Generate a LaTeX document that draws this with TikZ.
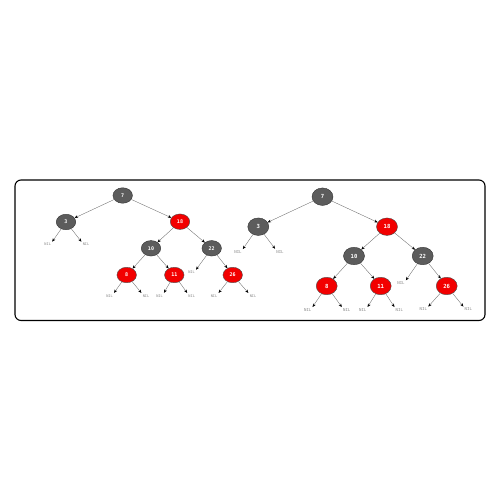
\documentclass[tikz,border=0pt]{standalone}
\usepackage{fontspec}
\newfontfamily\monofont{DejaVu Sans Mono}
\usetikzlibrary{shapes.geometric,arrows.meta}
\definecolor{nodegray}{HTML}{5C5C5C}
\definecolor{nodered}{HTML}{F20000}
\definecolor{edgegray}{HTML}{6A6A6A}
\definecolor{niltext}{HTML}{8A8A8A}
\tikzset{
  blk/.style={ellipse, draw=black!80, line width=0.4pt, fill=nodegray, text=white, font=\monofont\bfseries\fontsize{#1}{#1}\selectfont, inner sep=0pt},
  rd/.style={ellipse, draw=black!70, line width=0.4pt, fill=nodered, text=white, font=\monofont\bfseries\fontsize{#1}{#1}\selectfont, inner sep=0pt},
  sa/.style={minimum width=19.5pt, minimum height=15.5pt},
  sb/.style={minimum width=21pt, minimum height=17.5pt},
  nil/.style={text=niltext, font=\monofont\fontsize{#1}{#1}\selectfont, inner sep=0.5pt},
  edge/.style={draw=edgegray, line width=0.35pt, -{Stealth[length=3.4pt,width=2.8pt,color=black]}},
  nedge/.style={draw=edgegray, line width=0.35pt, -{Stealth[length=3.4pt,width=2.8pt,color=black]}, shorten >=1pt}
}
\begin{document}
\begin{tikzpicture}[x=1pt,y=-1pt]
\useasboundingbox (0,0) rectangle (500,500);
\draw[line width=1.1pt, rounded corners=6pt] (15,180) rectangle (485,320.5);
% left tree
\node[blk=5, sa] (a7) at (122.7,195.5) {7};
\node[blk=5, sa] (a3) at (66,222) {3};
\node[rd=5, sa] (a18) at (180,221.7) {18};
\node[blk=5, sa] (a10) at (151,248.3) {10};
\node[blk=5, sa] (a22) at (211.7,248.3) {22};
\node[rd=5, sa] (a8) at (126.7,275) {8};
\node[rd=5, sa] (a11) at (174.3,275) {11};
\node[rd=5, sa] (a26) at (232.7,275) {26};
\node[nil=3.6] (an1) at (47.7,244.5) {NIL};
\node[nil=3.6] (an2) at (86,244.5) {NIL};
\node[nil=3.6] (an3) at (191.5,272.5) {NIL};
\node[nil=3.6] (an4) at (109.5,295.7) {NIL};
\node[nil=3.6] (an5) at (146,295.7) {NIL};
\node[nil=3.6] (an6) at (159.5,295.7) {NIL};
\node[nil=3.6] (an7) at (191.7,295.7) {NIL};
\node[nil=3.6] (an8) at (214,295.7) {NIL};
\node[nil=3.6] (an9) at (253,295.7) {NIL};
\draw[edge] (a7) -- (a3);
\draw[edge] (a7) -- (a18);
\draw[edge] (a18) -- (a10);
\draw[edge] (a18) -- (a22);
\draw[edge] (a10) -- (a8);
\draw[edge] (a10) -- (a11);
\draw[edge] (a22) -- (a26);
\draw[nedge] (a3) -- (an1.north east);
\draw[nedge] (a3) -- (an2.north west);
\draw[nedge] (a22) -- (an3.north east);
\draw[nedge] (a8) -- (an4.north east);
\draw[nedge] (a8) -- (an5.north west);
\draw[nedge] (a11) -- (an6.north east);
\draw[nedge] (a11) -- (an7.north west);
\draw[nedge] (a26) -- (an8.north east);
\draw[nedge] (a26) -- (an9.north west);
% right tree
\node[blk=5.6, sb] (b7) at (322.5,196.7) {7};
\node[blk=5.6, sb] (b3) at (258.3,226.7) {3};
\node[rd=5.6, sb] (b18) at (387,226.7) {18};
\node[blk=5.6, sb] (b10) at (354,256) {10};
\node[blk=5.6, sb] (b22) at (422.7,256) {22};
\node[rd=5.6, sb] (b8) at (326.7,286) {8};
\node[rd=5.6, sb] (b11) at (380.7,286) {11};
\node[rd=5.6, sb] (b26) at (446.7,286) {26};
\node[nil=4] (bn1) at (238,252) {NIL};
\node[nil=4] (bn2) at (280,251.7) {NIL};
\node[nil=4] (bn3) at (401,283.3) {NIL};
\node[nil=4] (bn4) at (307.7,310) {NIL};
\node[nil=4] (bn5) at (346.7,310) {NIL};
\node[nil=4] (bn6) at (362.7,310) {NIL};
\node[nil=4] (bn7) at (399.3,310) {NIL};
\node[nil=4] (bn8) at (423.3,309.5) {NIL};
\node[nil=4] (bn9) at (468.3,309.5) {NIL};
\draw[edge] (b7) -- (b3);
\draw[edge] (b7) -- (b18);
\draw[edge] (b18) -- (b10);
\draw[edge] (b18) -- (b22);
\draw[edge] (b10) -- (b8);
\draw[edge] (b10) -- (b11);
\draw[edge] (b22) -- (b26);
\draw[nedge] (b3) -- (bn1.north east);
\draw[nedge] (b3) -- (bn2.north west);
\draw[nedge] (b22) -- (bn3.north east);
\draw[nedge] (b8) -- (bn4.north east);
\draw[nedge] (b8) -- (bn5.north west);
\draw[nedge] (b11) -- (bn6.north east);
\draw[nedge] (b11) -- (bn7.north west);
\draw[nedge] (b26) -- (bn8.north east);
\draw[nedge] (b26) -- (bn9.north west);
\end{tikzpicture}
\end{document}
